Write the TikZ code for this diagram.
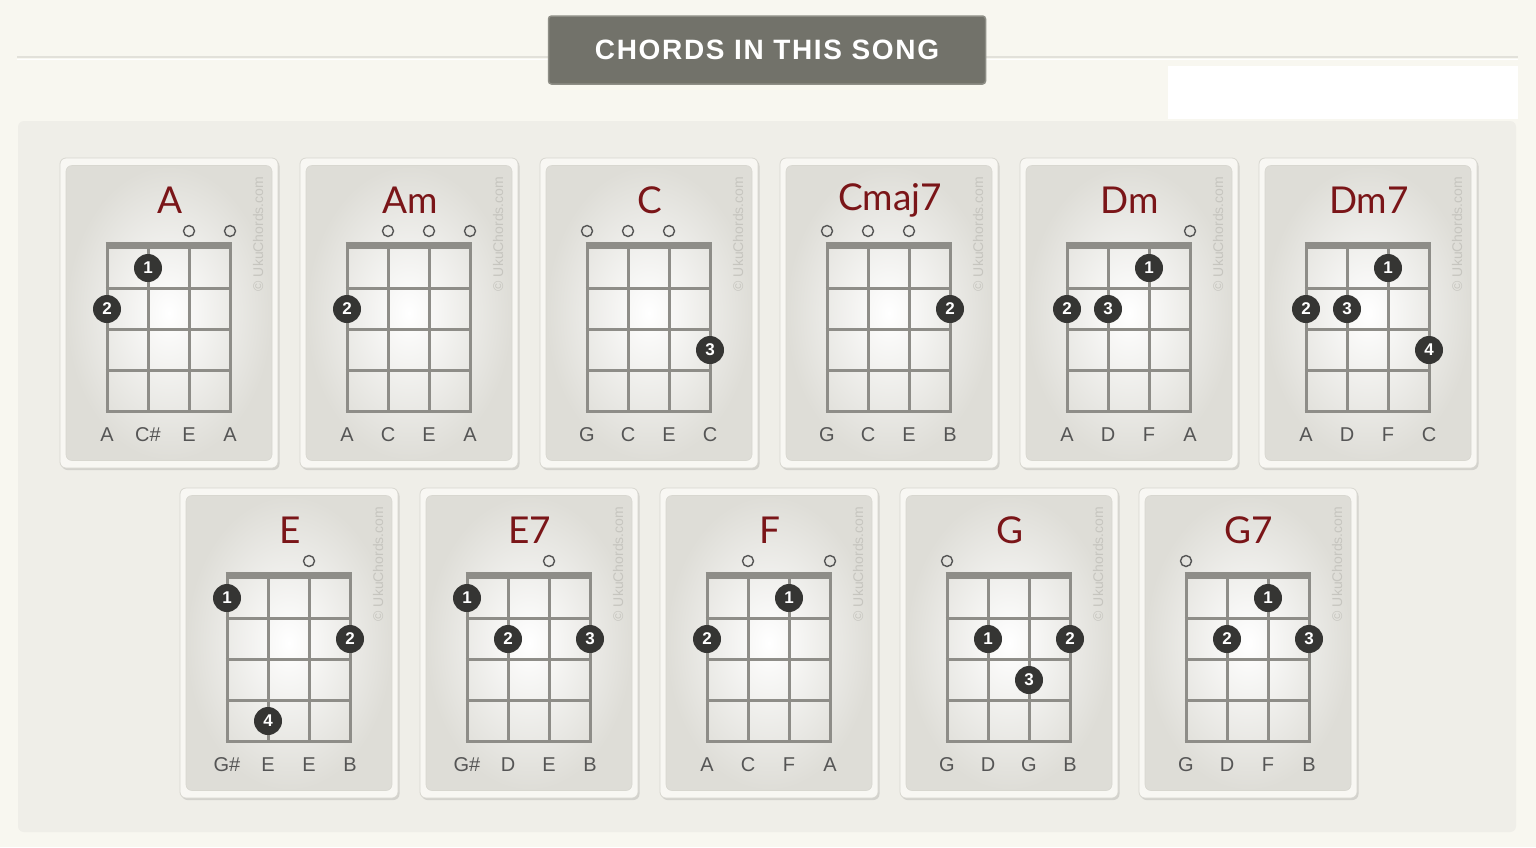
\documentclass[tikz,border=0pt]{standalone}
\usepackage{fontspec}
\setmainfont{Liberation Sans}
\newfontfamily\btnfont[LetterSpace=6]{Liberation Sans}
\newfontfamily\titlefont{Lato}
\usetikzlibrary{shadows}
\definecolor{bgcream}{HTML}{F8F7F0}
\definecolor{panelc}{HTML}{EFEEE8}
\definecolor{btnc}{HTML}{72726A}
\definecolor{btnedge}{HTML}{8E8E86}
\definecolor{cardouter}{HTML}{F8F7F3}
\definecolor{cardedge}{HTML}{D8D7D0}
\definecolor{innerouter}{HTML}{DEDDD7}
\definecolor{gridc}{HTML}{8E8D88}
\definecolor{dotc}{HTML}{353533}
\definecolor{titlec}{HTML}{7A1518}
\definecolor{labelc}{HTML}{555555}
\definecolor{wmc}{HTML}{C6C5BF}
\definecolor{linec}{HTML}{E2E1DA}
\tikzset{
  cardbox/.style={rounded corners=6pt, fill=cardouter, draw=cardedge, line width=0.8pt,
    minimum width=218pt, minimum height=310pt, inner sep=0pt,
    drop shadow={opacity=0.25, shadow xshift=1.5pt, shadow yshift=-2pt}},
  cardinner/.style={rounded corners=6pt, inner color=white, outer color=innerouter,
    draw=cardedge, line width=0.6pt,
    minimum width=206pt, minimum height=295pt, inner sep=0pt},
  gridline/.style={draw=gridc, line width=3pt},
  nutline/.style={draw=gridc, line width=7pt},
  fingerdot/.style={circle, fill=dotc, minimum size=28pt, inner sep=0pt, text=white,
    font=\fontsize{17}{17}\selectfont\bfseries},
  opencirc/.style={circle, draw=labelc, line width=1.4pt, minimum size=11pt, inner sep=0pt},
  chordtitle/.style={text=titlec, font=\titlefont\fontsize{37}{40}\selectfont, inner sep=0pt},
  strlabel/.style={text=labelc, font=\fontsize{20}{22}\selectfont, inner sep=0pt},
  watermark/.style={text=wmc, font=\fontsize{14}{15}\selectfont, rotate=90, inner sep=0pt},
}
\newcommand\chordcard[7]{%
  \begin{scope}[shift={(#2,#3)}]
    \node[cardbox] (#1-card) at (109,155) {};
    \node[cardinner] (#1-in) at (109,155) {};
    \node[watermark] (#1-wm) at (198,76) {\textcopyright{} UkuChords.com};
    \node[chordtitle] (#1-t) at (110,42) {#4};
    \draw[nutline] (45.5,87) -- (171.5,87);
    \foreach \fy in {130,171,212,253} \draw[gridline] (45.5,\fy) -- (171.5,\fy);
    \foreach \sx in {47,88,129,170} \draw[gridline] (\sx,87) -- (\sx,254.5);
    \foreach \s in {#5} \node[opencirc] (#1-o\s) at ({47+41*(\s-1)},73) {};
    \foreach \s/\f/\n in {#6} \node[fingerdot] (#1-d\n) at ({47+41*(\s-1)},{110+41*(\f-1)}) {\n};
    \foreach \l [count=\i] in {#7} \node[strlabel] (#1-l\i) at ({47+41*(\i-1)},277) {\l};
  \end{scope}}
\begin{document}
\begin{tikzpicture}[x=1pt,y=-1pt]
  \fill[bgcream] (0,0) rectangle (1536,847);
  \useasboundingbox (0,0) rectangle (1536,847);
  \draw[linec, line width=1.6pt] (17,57) -- (1518,57);
  \draw[white, line width=1pt] (17,59.5) -- (1518,59.5);
  \fill[white] (1168,66) rectangle (1518,119);
  \fill[panelc, rounded corners=6pt] (18,121) rectangle (1516,832);
  \node[rounded corners=3pt, fill=btnc, draw=btnedge, line width=1.5pt,
        minimum width=437pt, minimum height=68pt, text=white,
        font=\btnfont\bfseries\fontsize{28}{32}\selectfont] (btn) at (767,50) {CHORDS IN THIS SONG};
  % row 1
  \chordcard{A}{60}{158}{A}{3,4}{2/1/1,1/2/2}{A,C\#,E,A}
  \chordcard{Am}{300}{158}{Am}{2,3,4}{1/2/2}{A,C,E,A}
  \chordcard{C}{540}{158}{C}{1,2,3}{4/3/3}{G,C,E,C}
  \chordcard{Cmaj}{780}{158}{Cmaj7}{1,2,3}{4/2/2}{G,C,E,B}
  \chordcard{Dm}{1020}{158}{Dm}{4}{3/1/1,1/2/2,2/2/3}{A,D,F,A}
  \chordcard{Dmseven}{1259}{158}{Dm7}{}{3/1/1,1/2/2,2/2/3,4/3/4}{A,D,F,C}
  % row 2
  \chordcard{E}{180}{488}{E}{3}{1/1/1,4/2/2,2/4/4}{G\#,E,E,B}
  \chordcard{Eseven}{420}{488}{E7}{3}{1/1/1,2/2/2,4/2/3}{G\#,D,E,B}
  \chordcard{F}{660}{488}{F}{2,4}{3/1/1,1/2/2}{A,C,F,A}
  \chordcard{G}{900}{488}{G}{1}{2/2/1,4/2/2,3/3/3}{G,D,G,B}
  \chordcard{Gseven}{1139}{488}{G7}{1}{3/1/1,2/2/2,4/2/3}{G,D,F,B}
\end{tikzpicture}
\end{document}
